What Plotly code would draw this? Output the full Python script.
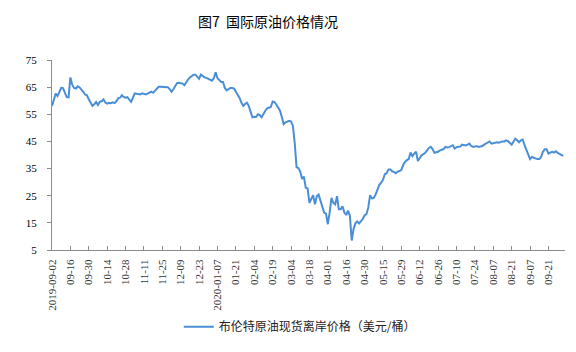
import plotly.graph_objects as go

# Brent spot price (USD/bbl), one value per trading day
prices = [
    58.1, 60.5, 62.6, 61.7, 63.3, 64.7, 64.6, 62.9, 61.3, 61.2,
    68.6, 65.9, 64.7, 64.5, 65.3, 64.9, 64.2, 63.3, 62.3, 62.0,
    60.5, 59.3, 58.1, 58.7, 59.5, 58.4, 59.6, 59.8, 60.5, 59.3,
    58.9, 59.2, 59.1, 59.4, 59.1, 59.8, 60.9, 61.1, 62.0, 61.4,
    61.1, 61.3, 60.4, 59.6, 61.1, 62.7, 62.6, 62.4, 62.3, 62.7,
    62.5, 62.3, 62.6, 63.0, 63.3, 62.9, 63.7, 64.5, 65.1, 65.1,
    65.1, 65.1, 65.0, 65.0, 64.3, 63.3, 64.2, 65.5, 66.5, 66.6,
    66.5, 66.3, 65.7, 67.0, 67.8, 68.6, 69.1, 69.6, 69.6, 68.8,
    68.1, 69.6, 69.0, 68.6, 68.4, 68.1, 67.6, 67.4, 68.3, 70.5,
    68.3, 67.5, 66.9, 66.9, 64.7, 63.8, 64.3, 64.7, 64.7, 64.5,
    63.3, 62.3, 61.0, 59.3, 58.1, 58.8, 59.3, 58.1, 56.3, 53.9,
    54.1, 54.0, 55.0, 54.7, 53.9, 55.3, 56.3, 57.2, 57.5, 57.7,
    59.7, 59.5, 58.6, 57.5, 56.3, 54.0, 51.4, 52.0, 52.4, 52.6,
    52.3, 50.8, 44.5, 35.5, 35.2, 33.9, 31.2, 32.0, 27.9, 27.7,
    22.4, 23.6, 25.2, 21.8, 24.8, 25.4, 23.0, 20.5, 18.8, 18.4,
    14.5, 18.8, 24.2, 22.4, 21.8, 24.8, 20.0, 20.0, 21.1, 18.8,
    17.9, 19.5, 17.6, 8.5, 12.7, 14.8, 15.5, 14.8, 15.6, 16.4,
    17.7, 18.2, 20.6, 25.2, 24.0, 24.2, 25.4, 27.2, 29.0, 29.8,
    30.9, 32.9, 33.3, 34.7, 34.7, 34.0, 33.8, 33.3, 33.9, 34.1,
    34.5, 36.3, 37.5, 38.1, 38.5, 40.9, 39.6, 40.5, 41.2, 37.8,
    38.8, 39.9, 40.3, 40.8, 41.7, 42.6, 43.0, 42.2, 40.8, 41.0,
    41.2, 41.7, 41.9, 42.2, 43.0, 42.8, 42.9, 43.3, 43.6, 42.4,
    42.9, 43.0, 43.1, 43.8, 43.6, 43.5, 43.8, 44.2, 43.3, 43.0,
    43.1, 43.3, 43.0, 43.2, 43.3, 43.8, 44.2, 44.5, 45.0, 44.2,
    44.3, 44.5, 44.7, 44.5, 44.8, 45.0, 45.0, 45.4, 45.1, 44.5,
    43.8, 45.0, 46.0, 45.4, 44.7, 45.4, 45.7, 43.6, 41.5, 40.2,
    38.5, 39.3, 39.0, 38.7, 38.5, 38.5, 39.3, 41.2, 42.1, 42.1,
    40.5, 40.9, 41.2, 40.9, 41.4, 40.8, 40.5, 40.2, 39.7,
]

# x tick labels, one every 10 trading days
tick_labels = [
    "2019-09-02", "09-16", "09-30", "10-14", "10-28", "11-11", "11-25",
    "12-09", "12-23", "2020-01-07", "01-21", "02-04", "02-19", "03-04",
    "03-18", "04-01", "04-16", "04-30", "05-15", "05-29", "06-12", "06-26",
    "07-10", "07-24", "08-07", "08-21", "09-07", "09-21",
]
tick_step = 10
y_ticks = [5, 15, 25, 35, 45, 55, 65, 75]

series_name = "布伦特原油现货离岸价格（美元/桶）"
title_text = "图7  国际原油价格情况"

x_idx = list(range(len(prices)))
tick_pos = [i * tick_step for i in range(len(tick_labels))]

fig = go.Figure()
fig.add_trace(go.Scatter(
    x=x_idx, y=prices, mode="lines", name=series_name,
    line=dict(color="#4A8ED6", width=2),
))

fig.update_layout(
    width=576, height=352,
    margin=dict(l=52, r=11, t=60, b=99),
    paper_bgcolor="white", plot_bgcolor="white",
    title=dict(text=title_text, x=268 / 576, xanchor="center", y=1 - 22 / 352,
               yanchor="middle",
               font=dict(family="Noto Sans CJK SC", size=14, color="#000000")),
    showlegend=True,
    legend=dict(orientation="h", x=0.483, xanchor="center", y=-0.404,
                yanchor="middle",
                font=dict(family="Noto Sans CJK SC", size=12, color="#222222"),
                itemwidth=30),
    xaxis=dict(
        range=[0, 279], tickmode="array", tickvals=tick_pos, ticktext=tick_labels,
        tickangle=-90, ticks="inside", ticklen=4, tickcolor="#8c8c8c",
        showline=True, linecolor="#8c8c8c", linewidth=1, showgrid=False,
        zeroline=False, ticklabelstandoff=4,
        tickfont=dict(family="Liberation Serif", size=11, color="#333333"),
    ),
    yaxis=dict(
        range=[5, 75], tickmode="array", tickvals=y_ticks,
        ticks="outside", ticklen=4, tickcolor="#8c8c8c",
        showline=True, linecolor="#8c8c8c", linewidth=1, showgrid=False,
        zeroline=False, ticklabelstandoff=8,
        tickfont=dict(family="Liberation Serif", size=11, color="#000000"),
    ),
)

fig.write_html("out.html")
